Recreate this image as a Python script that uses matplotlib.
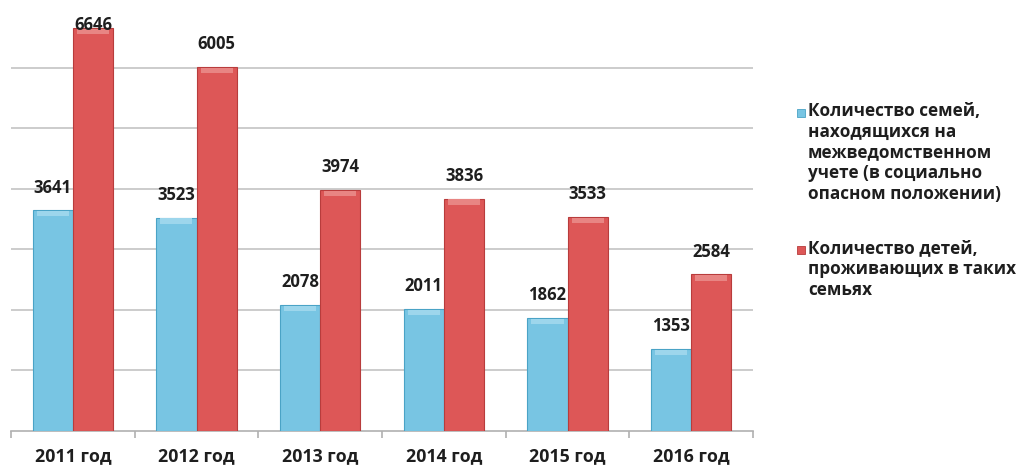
import matplotlib
matplotlib.use('Agg')
import matplotlib.pyplot as plt
import matplotlib.patches as mpatches
import numpy as np

plt.rcParams['font.family'] = ['Open Sans', 'DejaVu Sans']
plt.rcParams['font.weight'] = 'bold'

years = ['2011 год', '2012 год', '2013 год', '2014 год', '2015 год', '2016 год']
families = [3641, 3523, 2078, 2011, 1862, 1353]
children = [6646, 6005, 3974, 3836, 3533, 2584]
labels = ['Количество семей,\nнаходящихся на\nмежведомственном\nучете (в социально\nопасном положении)',
          'Количество детей,\nпроживающих в таких\nсемьях']

blue = '#78c5e3'
blue_edge = '#4aa3c6'
blue_top = '#9dd6ec'
red = '#dd5757'
red_edge = '#b83c3c'
red_top = '#e88583'
text_c = '#1e1e1e'

fig = plt.figure(figsize=(10.19, 4.68), dpi=100)
ax = fig.add_axes([0.0108, 0.0791, 0.7282, 0.906])

x = np.arange(len(years))
w = 0.325
cap = 90

for vals, off, c, ec, tc in [(families, -w / 2, blue, blue_edge, blue_top),
                             (children, w / 2, red, red_edge, red_top)]:
    vals = np.array(vals)
    ax.bar(x + off, vals, w, color=c, edgecolor=ec, linewidth=0.8, zorder=3)
    # light bevel strip along the top of every bar
    ax.bar(x + off, np.full(len(vals), cap), w * 0.8, bottom=vals - cap - 10,
           color=tc, linewidth=0, zorder=4)
    for xi, v in zip(x + off, vals):
        # keep labels inside the plot area
        ax.text(xi, min(v + 230, 6560), str(v), ha='center', va='bottom',
                fontsize=12, fontweight='bold', color=text_c, zorder=5)

ax.set_xlim(-0.5, len(years) - 0.5)
ax.set_ylim(0, 7000)
for g in range(1000, 7000, 1000):
    ax.axhline(g, color='#c4c4c4', linewidth=1.2, zorder=1)

for s in ['top', 'right', 'left']:
    ax.spines[s].set_visible(False)
ax.spines['bottom'].set_color('#b0b0b0')
ax.spines['bottom'].set_linewidth(1.2)
ax.set_yticks([])
ax.set_xticks(x)
ax.set_xticklabels(years, fontsize=12.8, fontweight='bold', color=text_c)
ax.tick_params(axis='x', length=0, pad=12)
ax.set_xticks(np.arange(-0.5, len(years), 1), minor=True)
ax.tick_params(axis='x', which='minor', length=5, color='#b0b0b0', width=1.2)

# legend: square marker next to the first line of each entry
W, H = fig.get_size_inches() * fig.dpi
for (lab, c, ec), ytop in zip([(labels[0], blue, blue_edge), (labels[1], red, red_edge)],
                              [113, 250]):
    fig.patches.append(mpatches.Rectangle((797 / W, 1 - (ytop + 4) / H), 8 / W, 8 / H,
                                          transform=fig.transFigure, facecolor=c,
                                          edgecolor=ec, linewidth=0.6))
    fig.text(808 / W, 1 - (ytop - 11) / H, lab, ha='left', va='top', fontsize=12.3,
             fontweight='bold', color=text_c, linespacing=1.2)

fig.savefig('out.png', dpi=100)
